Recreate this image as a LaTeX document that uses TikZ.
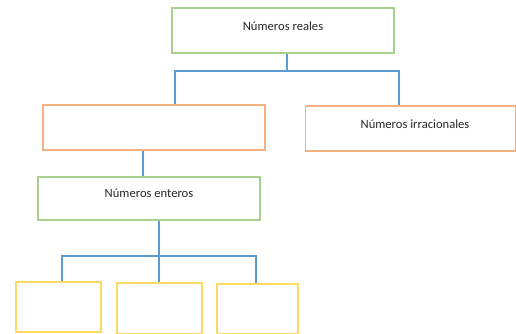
\documentclass[tikz,border=0pt]{standalone}
\usepackage{fontspec}
\setmainfont{Carlito}
\definecolor{bgreen}{HTML}{A9D18E}
\definecolor{borange}{HTML}{F4B183}
\definecolor{byellow}{HTML}{FFD966}
\definecolor{cblue}{HTML}{5B9BD5}
\tikzset{
  box/.style={draw, line width=1.1pt, rectangle, inner sep=0pt},
  gbox/.style={box, draw=bgreen},
  obox/.style={box, draw=borange},
  ybox/.style={box, draw=byellow},
  lbl/.style={inner sep=0pt, font=\fontsize{12.6}{14}\selectfont, text=black!85},
  conn/.style={draw=cblue, line width=1.8pt},
}
\begin{document}
\begin{tikzpicture}[x=1pt,y=-1pt]
\useasboundingbox (0,0) rectangle (516,334);
% boxes
\node[gbox, minimum width=222pt, minimum height=45pt] (reales) at (283,30.5) {};
\node[lbl] (trea) at (283,26.5) {Números reales};
\node[obox, minimum width=222pt, minimum height=45pt] (rac) at (154,127.5) {};
\node[obox, minimum width=210pt, minimum height=45pt] (irr) at (410.5,128.5) {};
\node[lbl] (tirr) at (415,124) {Números irracionales};
\node[gbox, minimum width=222pt, minimum height=43pt] (ent) at (149,198.5) {};
\node[lbl] (tent) at (149,193.5) {Números enteros};
\node[ybox, minimum width=85pt, minimum height=50pt] (y1) at (58.5,307) {};
\node[ybox, minimum width=85pt, minimum height=51pt] (y2) at (159.5,308.5) {};
\node[ybox, minimum width=81pt, minimum height=50pt] (y3) at (257.5,309) {};
% x positions of connectors
\coordinate (x1) at (287,0);
\coordinate (x2) at (175,0);
\coordinate (x3) at (399,0);
\coordinate (x4) at (143,0);
\coordinate (x5) at (159,0);
\coordinate (x6) at (62,0);
\coordinate (x7) at (256,0);
\coordinate (h1) at (0,71);
\coordinate (h2) at (0,256);
% connectors
\draw[conn] (x1 |- reales.south) -- (x1 |- h1);
\draw[conn] (x2 |- rac.north) -- (x2 |- h1) -- (x3 |- h1) -- (x3 |- irr.north);
\draw[conn] (x4 |- rac.south) -- (x4 |- ent.north);
\draw[conn] (x5 |- ent.south) -- (x5 |- y2.north);
\draw[conn] (x6 |- y1.north) -- (x6 |- h2) -- (x7 |- h2) -- (x7 |- y3.north);
\end{tikzpicture}
\end{document}
